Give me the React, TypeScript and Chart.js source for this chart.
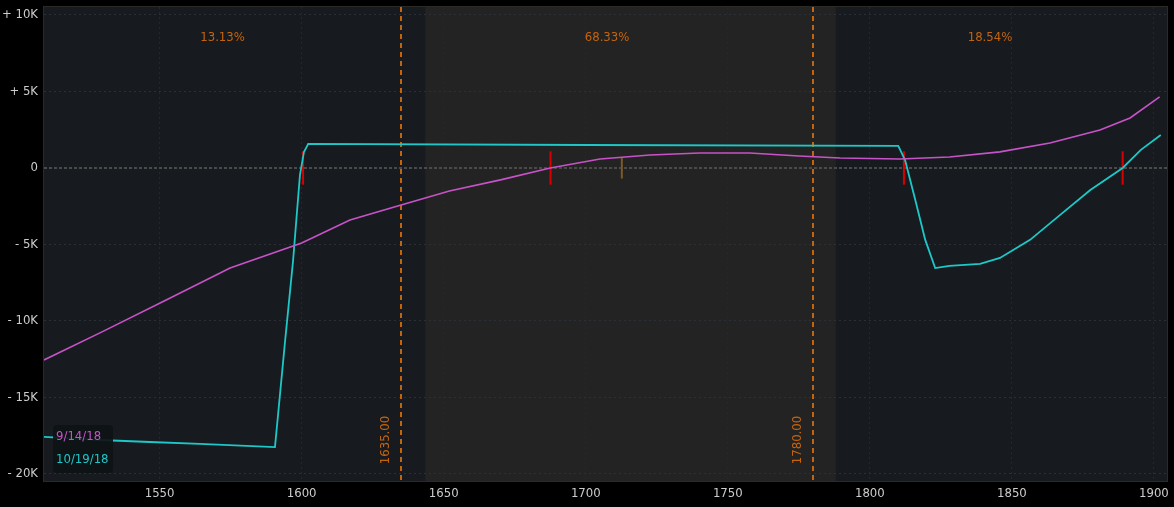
import React, { useEffect, useRef } from "react";
import { Chart, registerables } from "chart.js";

Chart.register(...registerables);

// ---- data ----
const seriesNames = ["9/14/18", "10/19/18"];

const magentaX = [1509.3, 1529, 1551.6, 1574.8, 1600, 1617, 1635, 1652, 1670, 1687.5, 1705, 1722.6, 1740, 1757.7, 1775, 1789.5, 1810.6, 1828, 1845.8, 1863.4, 1881, 1891.6, 1902];
const magentaY = [-12550, -10780, -8690, -6540, -4900, -3400, -2420, -1500, -780, 0, 590, 850, 980, 980, 780, 650, 590, 720, 1050, 1630, 2480, 3270, 4640];

const cyanX = [1509.3, 1529, 1546.6, 1564.2, 1590.6, 1594.2, 1597, 1598.4, 1599.4, 1600.8, 1602.3, 1700, 1810, 1812.4, 1816, 1819.5, 1823, 1828, 1838.8, 1845.8, 1856.4, 1867, 1877.6, 1889, 1895.4, 1902.4];
const cyanY = [-17580, -17780, -17910, -18040, -18240, -11240, -6010, -2745, -458, 1046, 1570, 1500, 1440, 520, -2090, -4700, -6540, -6400, -6270, -5880, -4700, -3070, -1440, 0, 1180, 2160];

const redMarkers = [1600.5, 1687.6, 1812, 1889];
const redMarkerHalf = 1100;
const brownMarkers = [1712.7];
const brownMarkerHalf = 690;

const expiryLines = [1635, 1780];
const expiryLabels = ["1635.00", "1780.00"];
const regionPercents = ["13.13%", "68.33%", "18.54%"];
const bandRange = [1643.5, 1788];

const xMin = 1509.3;
const xMax = 1904.6;
const yMin = -20460;
const yMax = 10520;
const xTicks = [1550, 1600, 1650, 1700, 1750, 1800, 1850, 1900];
const yTicks = [10000, 5000, 0, -5000, -10000, -15000, -20000];
const yTickLabels = ["+ 10K", "+ 5K", "0", "- 5K", "- 10K", "- 15K", "- 20K"];

const FONT = '"DejaVu Sans Condensed", "DejaVu Sans", Roboto, sans-serif';
const MAGENTA = "#c853c8";
const CYAN = "#1ec8c8";
const ORANGE = "#c4640f";

function markerData(xs: number[], half: number) {
  const out: { x: number; y: number | null }[] = [];
  xs.forEach((x) => {
    out.push({ x, y: -half });
    out.push({ x, y: half });
    out.push({ x, y: null });
  });
  return out;
}

const decorPlugin = {
  id: "decor",
  beforeDraw(chart: any) {
    const { ctx, chartArea: a, scales } = chart;
    const x = scales.x;
    ctx.save();
    ctx.fillStyle = "#000000";
    ctx.fillRect(0, 0, chart.width, chart.height);
    ctx.fillStyle = "#171b1f";
    ctx.fillRect(a.left, a.top, a.right - a.left, a.bottom - a.top);
    const b0 = x.getPixelForValue(bandRange[0]);
    const b1 = x.getPixelForValue(bandRange[1]);
    ctx.fillStyle = "#232323";
    ctx.fillRect(b0, a.top, b1 - b0, a.bottom - a.top);
    ctx.strokeStyle = "#2b2a25";
    ctx.lineWidth = 1;
    ctx.strokeRect(a.left - 0.5, a.top - 0.5, a.right - a.left + 1, a.bottom - a.top + 1);
    ctx.restore();
  },
  beforeDatasetsDraw(chart: any) {
    const { ctx, chartArea: a, scales } = chart;
    const x = scales.x;
    const y = scales.y;
    ctx.save();
    // zero line
    const y0 = Math.round(y.getPixelForValue(0));
    ctx.strokeStyle = "#4a4a4a";
    ctx.lineWidth = 2;
    ctx.setLineDash([3, 2]);
    ctx.beginPath();
    ctx.moveTo(a.left, y0);
    ctx.lineTo(a.right, y0);
    ctx.stroke();
    // expiry lines
    ctx.strokeStyle = ORANGE;
    ctx.lineWidth = 2;
    ctx.setLineDash([5, 4]);
    expiryLines.forEach((v) => {
      const px = Math.round(x.getPixelForValue(v));
      ctx.beginPath();
      ctx.moveTo(px, a.top);
      ctx.lineTo(px, a.bottom);
      ctx.stroke();
    });
    ctx.setLineDash([]);
    // rotated labels
    ctx.fillStyle = ORANGE;
    ctx.font = `13px ${FONT}`;
    ctx.textAlign = "center";
    ctx.textBaseline = "middle";
    expiryLines.forEach((v, i) => {
      const px = x.getPixelForValue(v);
      ctx.save();
      ctx.translate(px - 15, 440);
      ctx.rotate(-Math.PI / 2);
      ctx.fillText(expiryLabels[i], 0, 0);
      ctx.restore();
    });
    // percent labels
    const bounds = [xMin, ...expiryLines, xMax];
    regionPercents.forEach((t, i) => {
      const c = x.getPixelForValue((bounds[i] + bounds[i + 1]) / 2);
      ctx.fillText(t, c, 38);
    });
    ctx.restore();
  },
  afterDraw(chart: any) {
    const { ctx } = chart;
    ctx.save();
    ctx.fillStyle = "rgba(14,18,22,0.92)";
    ctx.beginPath();
    (ctx as any).roundRect(53, 425, 60, 48, 4);
    ctx.fill();
    ctx.font = `13px ${FONT}`;
    ctx.textAlign = "left";
    ctx.textBaseline = "middle";
    ctx.fillStyle = MAGENTA;
    ctx.fillText(seriesNames[0], 56, 437);
    ctx.fillStyle = CYAN;
    ctx.fillText(seriesNames[1], 56, 460);
    ctx.restore();
  },
};

export default function App() {
  const ref = useRef<HTMLCanvasElement | null>(null);
  useEffect(() => {
    if (!ref.current) return;
    const chart = new Chart(ref.current, {
      type: "line",
      data: {
        datasets: [
          {
            label: seriesNames[0],
            data: magentaX.map((x, i) => ({ x, y: magentaY[i] })),
            borderColor: MAGENTA,
            borderWidth: 1.6,
            pointRadius: 0,
            tension: 0,
          },
          {
            label: seriesNames[1],
            data: cyanX.map((x, i) => ({ x, y: cyanY[i] })),
            borderColor: CYAN,
            borderWidth: 1.8,
            pointRadius: 0,
            tension: 0,
          },
          {
            label: "breakeven",
            data: markerData(redMarkers, redMarkerHalf) as any,
            borderColor: "#d80000",
            borderWidth: 2,
            pointRadius: 0,
            spanGaps: false,
          },
          {
            label: "mark",
            data: markerData(brownMarkers, brownMarkerHalf) as any,
            borderColor: "#7a5a28",
            borderWidth: 2,
            pointRadius: 0,
            spanGaps: false,
          },
        ],
      },
      options: {
        animation: false,
        responsive: false,
        devicePixelRatio: 1,
        layout: { padding: { top: 7, right: 7, left: 0, bottom: 0 } },
        plugins: { legend: { display: false }, tooltip: { enabled: false } },
        scales: {
          x: {
            type: "linear",
            min: xMin,
            max: xMax,
            afterBuildTicks: (s: any) => {
              s.ticks = xTicks.map((v) => ({ value: v }));
            },
            afterFit: (s: any) => {
              s.height = 26;
              s.paddingLeft = 0;
              s.paddingRight = 0;
            },
            ticks: {
              autoSkip: false,
              maxRotation: 0,
              padding: 5,
              color: "#cccccc",
              font: { family: FONT, size: 13 },
              callback: (v: any) => String(v),
            },
            grid: { color: "#23282c", tickLength: 0, drawTicks: false },
            border: { display: false, dash: [2, 3] },
          },
          y: {
            type: "linear",
            min: yMin,
            max: yMax,
            afterBuildTicks: (s: any) => {
              s.ticks = yTicks.map((v) => ({ value: v }));
            },
            afterFit: (s: any) => {
              s.width = 44;
              s.paddingTop = 0;
              s.paddingBottom = 0;
            },
            ticks: {
              padding: 6,
              color: "#cccccc",
              font: { family: FONT, size: 13 },
              callback: (v: any) => yTickLabels[yTicks.indexOf(Number(v))],
            },
            grid: { color: "#2a3035", tickLength: 0, drawTicks: false },
            border: { display: false, dash: [2, 3] },
          },
        },
      },
      plugins: [decorPlugin],
    });
    return () => chart.destroy();
  }, []);
  return (
    <div style={{ position: "fixed", left: 0, top: 0, width: 1174, height: 507, background: "#000" }}>
      <canvas ref={ref} width={1174} height={507} style={{ display: "block", width: 1174, height: 507 }} />
    </div>
  );
}
